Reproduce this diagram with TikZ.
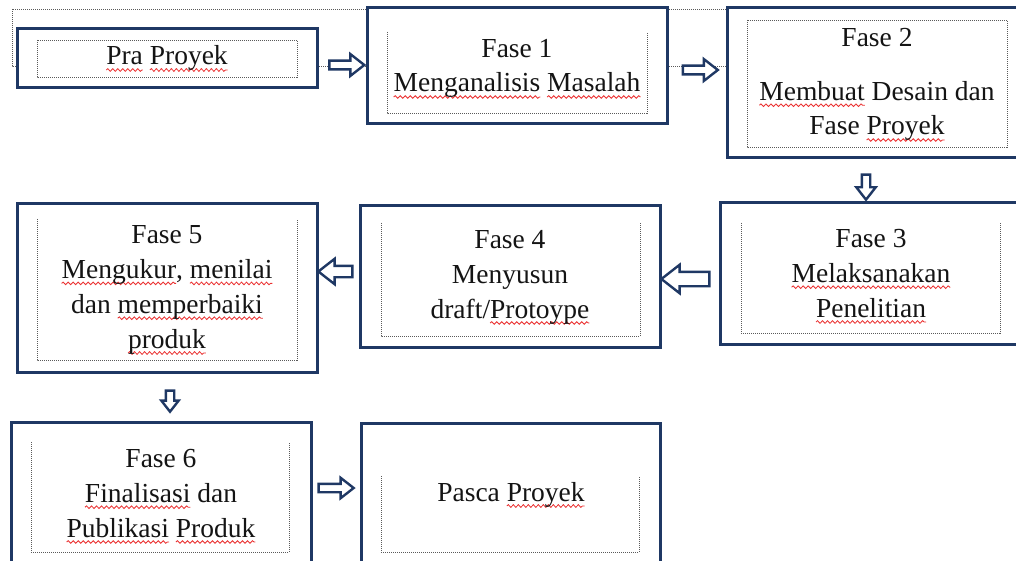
\documentclass[tikz,border=0pt]{standalone}
\usepackage{fontspec}
\setmainfont{Liberation Serif}
\usetikzlibrary{shapes.arrows,decorations.pathmorphing}
\definecolor{navy}{RGB}{31,56,100}
\definecolor{dotgray}{RGB}{90,90,90}
\definecolor{wavered}{RGB}{235,50,50}
\newsavebox\sqbox
\newlength\sqw
\newcommand\sq[1]{\sbox\sqbox{#1}\setlength\sqw{\wd\sqbox}\leavevmode\rlap{\tikz[baseline=0pt,x=1pt,y=1pt]{\useasboundingbox (0,0);\draw[wavered, line width=0.85pt, decorate, decoration={snake, amplitude=1.3pt, segment length=5pt}] (0,-5pt) -- (\the\sqw,-5pt);}}\usebox\sqbox}
\tikzset{
  outerbox/.style={draw=navy, line width=3pt, fill=white, inner sep=0pt},
  innerdot/.style={draw=dotgray, line width=0.9pt, dash pattern=on 1pt off 1pt},
  label/.style={align=center, anchor=base, inner sep=0pt, text=black!92,
    font=\fontsize{27.5}{34.8}\selectfont},
  blockarrow/.style={single arrow, draw=navy, line width=2.4pt, fill=white,
    inner xsep=0pt, single arrow tip angle=76},
}
\begin{document}
\begin{tikzpicture}[x=1pt,y=-1pt]
\useasboundingbox (0,0) rectangle (1016,561);
\clip (0,0) rectangle (1016,561);
% big dotted frame behind the first row
\draw[innerdot] (12,9) rectangle (727,66);
% outer boxes
\node[outerbox, minimum width=300pt, minimum height=59pt]  (pra)   at (167,58.5) {};
\node[outerbox, minimum width=300pt, minimum height=116pt] (f1)    at (517,66) {};
\node[outerbox, minimum width=303pt, minimum height=150pt] (f2)    at (878.5,83) {};
\node[outerbox, minimum width=310pt, minimum height=141pt] (f3)    at (875,273.5) {};
\node[outerbox, minimum width=300pt, minimum height=141pt] (f4)    at (510,276.5) {};
\node[outerbox, minimum width=300pt, minimum height=168pt] (f5)    at (167,288) {};
\node[outerbox, minimum width=300pt, minimum height=158pt] (f6)    at (161,501) {};
\node[outerbox, minimum width=299pt, minimum height=157pt] (pasca) at (510.5,501.5) {};
% inner dotted frames
\draw[innerdot] (37,40) rectangle (297,77);
\draw[innerdot] (387,32) -- (387,113) -- (647,113) -- (647,32);
\draw[innerdot] (747,20) rectangle (1007,147);
\draw[innerdot] (741,223) -- (741,333) -- (1000,333) -- (1000,223);
\draw[innerdot] (381,223) -- (381,336) -- (640,336) -- (640,223);
\draw[innerdot] (37,219) -- (37,360) -- (297,360) -- (297,219);
\draw[innerdot] (31,442) -- (31,552) -- (289,552) -- (289,442);
\draw[innerdot] (381,476) -- (381,552) -- (639,552) -- (639,476);
% texts (anchored at the baseline of their last line)
\node[label] (t0) at (167,65) {\sq{Pra} \sq{Proyek}};
\node[label] (t1) at (517,92) {Fase 1\\\sq{Menganalisis} \sq{Masalah}};
\node[label] (t2) at (877,135) {Fase 2\\[19pt]\sq{Membuat} Desain dan\\Fase \sq{Proyek}};
\node[label] (t3) at (871,317) {Fase 3\\\sq{Melaksanakan}\\\sq{Penelitian}};
\node[label] (t4) at (510,318) {Fase 4\\Menyusun\\draft/\sq{Protoype}};
\node[label] (t5) at (167,348) {Fase 5\\\sq{Mengukur}, \sq{menilai}\\dan \sq{memperbaiki}\\\sq{produk}};
\node[label] (t6) at (161,537) {Fase 6\\\sq{Finalisasi} dan\\\sq{Publikasi} \sq{Produk}};
\node[label] (t7) at (511,501) {Pasca \sq{Proyek}};
% block arrows
\node[blockarrow, minimum height=35pt, inner ysep=3.2pt, single arrow head extend=6.5pt] (a1) at (344,65) {};
\node[blockarrow, minimum height=35pt, inner ysep=3.2pt, single arrow head extend=6.5pt] (a2) at (697.5,70) {};
\node[blockarrow, rotate=-90, minimum height=25pt, inner ysep=3pt, single arrow head extend=5.5pt] (a3) at (866,184.5) {};
\node[blockarrow, rotate=180, minimum height=48pt, inner ysep=6pt, single arrow head extend=7pt] (a4) at (690,279) {};
\node[blockarrow, rotate=180, minimum height=34pt, inner ysep=4.5pt, single arrow head extend=7pt] (a5) at (339,271.5) {};
\node[blockarrow, rotate=-90, minimum height=21pt, inner ysep=3pt, single arrow head extend=4.5pt] (a6) at (170,398.5) {};
\node[blockarrow, minimum height=35pt, inner ysep=3pt, single arrow head extend=6pt] (a7) at (333.5,488) {};
\end{tikzpicture}
\end{document}
